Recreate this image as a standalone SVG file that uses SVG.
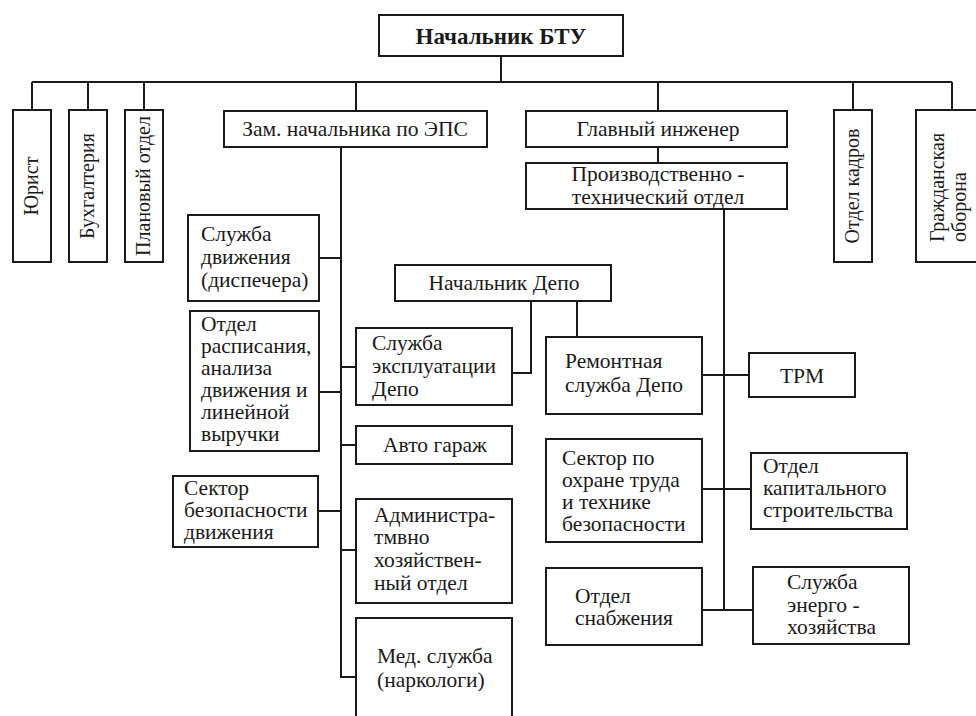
<svg xmlns="http://www.w3.org/2000/svg" width="976" height="716" viewBox="0 0 976 716" font-family="'Liberation Serif', 'DejaVu Serif', 'Times New Roman', serif">
  <style>
    .box { fill: #ffffff; stroke: #1a1a1a; stroke-width: 2; }
    .wire { fill: none; stroke: #1a1a1a; stroke-width: 2; }
    .t { font-family: 'Liberation Serif', 'DejaVu Serif', 'Times New Roman', serif; font-size: 21.5px; fill: #1a1a1a; }
    .v { font-size: 20px; }
    .c { text-anchor: middle; }
    .b { font-weight: bold; font-size: 23px; }
  </style>
  <rect x="0" y="0" width="976" height="716" fill="#ffffff"/>

  <!-- connectors -->
  <g id="connectors" class="wire">
    <!-- top bus -->
    <path d="M501 56 V82 M32 82 H952"/>
    <path d="M32 82 V110 M88 82 V110 M144 82 V110 M356 82 V111 M658 82 V111 M853 82 V110 M952 82 V110"/>
    <!-- deputy for rolling stock -->
    <path d="M341 147 V677 H356"/>
    <path d="M319 258 H341 M319 392 H341 M341 367 H356 M341 445 H356 M318 511 H341 M341 550 H356"/>
    <!-- depot head -->
    <path d="M531 301 V373 H512 M577 301 V337"/>
    <!-- chief engineer -->
    <path d="M658 147 V163"/>
    <path d="M724 209 V610"/>
    <path d="M702 375 H749 M702 489 H751 M702 610 H753"/>
  </g>

  <g id="head">
    <rect class="box" x="379" y="15" width="244" height="41"/>
    <text class="t c b" x="501" y="44">Начальник БТУ</text>
  </g>

  <g id="lawyer">
    <rect class="box" x="13" y="110" width="38" height="152"/>
    <text class="t v c" transform="translate(38 186) rotate(-90)">Юрист</text>
  </g>
  <g id="accounting">
    <rect class="box" x="69" y="110" width="38" height="152"/>
    <text class="t v c" transform="translate(94 186) rotate(-90)">Бухгалтерия</text>
  </g>
  <g id="planning">
    <rect class="box" x="125" y="110" width="38" height="152"/>
    <text class="t v c" transform="translate(150 186) rotate(-90)">Плановый отдел</text>
  </g>
  <g id="personnel">
    <rect class="box" x="834" y="110" width="38" height="152"/>
    <text class="t v c" transform="translate(859 186) rotate(-90)">Отдел кадров</text>
  </g>
  <g id="civil-defence">
    <rect class="box" x="916" y="110" width="70" height="152"/>
    <text class="t v" transform="translate(944 242) rotate(-90)">Гражданская</text>
    <text class="t v" transform="translate(966 242) rotate(-90)">оборона</text>
  </g>

  <g id="deputy">
    <rect class="box" x="224" y="111" width="263" height="36"/>
    <text class="t c" x="355" y="136">Зам. начальника по ЭПС</text>
  </g>
  <g id="chief-engineer">
    <rect class="box" x="526" y="111" width="261" height="36"/>
    <text class="t c" x="658" y="136">Главный инженер</text>
  </g>
  <g id="production-dept">
    <rect class="box" x="526" y="163" width="261" height="46"/>
    <text class="t c" x="658" y="181">Производственно -</text>
    <text class="t c" x="658" y="204">технический отдел</text>
  </g>

  <g id="traffic-service">
    <rect class="box" x="188" y="215" width="131" height="86"/>
    <text class="t" x="201" y="241">Служба</text>
    <text class="t" x="201" y="264">движения</text>
    <text class="t" x="201" y="287">(диспечера)</text>
  </g>
  <g id="schedule-dept">
    <rect class="box" x="190" y="311" width="129" height="140"/>
    <text class="t" x="201" y="331">Отдел</text>
    <text class="t" x="201" y="353">расписания,</text>
    <text class="t" x="201" y="375">анализа</text>
    <text class="t" x="201" y="397">движения и</text>
    <text class="t" x="201" y="419">линейной</text>
    <text class="t" x="201" y="441">выручки</text>
  </g>
  <g id="safety-sector">
    <rect class="box" x="173" y="476" width="145" height="71"/>
    <text class="t" x="184" y="495">Сектор</text>
    <text class="t" x="184" y="517">безопасности</text>
    <text class="t" x="184" y="539">движения</text>
  </g>

  <g id="depot-head">
    <rect class="box" x="395" y="265" width="216" height="36"/>
    <text class="t c" x="504" y="290">Начальник Депо</text>
  </g>
  <g id="depot-operation">
    <rect class="box" x="356" y="328" width="156" height="77"/>
    <text class="t" x="372" y="350">Служба</text>
    <text class="t" x="372" y="373">эксплуатации</text>
    <text class="t" x="372" y="396">Депо</text>
  </g>
  <g id="garage">
    <rect class="box" x="356" y="426" width="156" height="38"/>
    <text class="t c" x="435" y="452">Авто гараж</text>
  </g>
  <g id="admin-dept">
    <rect class="box" x="356" y="499" width="156" height="104"/>
    <text class="t" x="374" y="522">Администра-</text>
    <text class="t" x="374" y="544">тмвно</text>
    <text class="t" x="374" y="567">хозяйствен-</text>
    <text class="t" x="374" y="590">ный отдел</text>
  </g>
  <g id="medical">
    <rect class="box" x="356" y="618" width="156" height="110"/>
    <text class="t" x="377" y="663">Мед. служба</text>
    <text class="t" x="377" y="687">(наркологи)</text>
  </g>

  <g id="depot-repair">
    <rect class="box" x="546" y="337" width="156" height="77"/>
    <text class="t" x="565" y="368">Ремонтная</text>
    <text class="t" x="565" y="392">служба Депо</text>
  </g>
  <g id="labour-safety">
    <rect class="box" x="546" y="439" width="156" height="103"/>
    <text class="t" x="562" y="465">Сектор по</text>
    <text class="t" x="562" y="487">охране труда</text>
    <text class="t" x="562" y="509">и технике</text>
    <text class="t" x="562" y="531">безопасности</text>
  </g>
  <g id="supply">
    <rect class="box" x="546" y="568" width="156" height="77"/>
    <text class="t" x="575" y="603">Отдел</text>
    <text class="t" x="575" y="625">снабжения</text>
  </g>

  <g id="trm">
    <rect class="box" x="749" y="353" width="106" height="44"/>
    <text class="t c" x="802" y="383">ТРМ</text>
  </g>
  <g id="construction">
    <rect class="box" x="751" y="453" width="156" height="76"/>
    <text class="t" x="763" y="473">Отдел</text>
    <text class="t" x="763" y="495">капитального</text>
    <text class="t" x="763" y="517">строительства</text>
  </g>
  <g id="energy">
    <rect class="box" x="753" y="567" width="156" height="77"/>
    <text class="t" x="787" y="589">Служба</text>
    <text class="t" x="787" y="612">энерго -</text>
    <text class="t" x="787" y="634">хозяйства</text>
  </g>
</svg>
